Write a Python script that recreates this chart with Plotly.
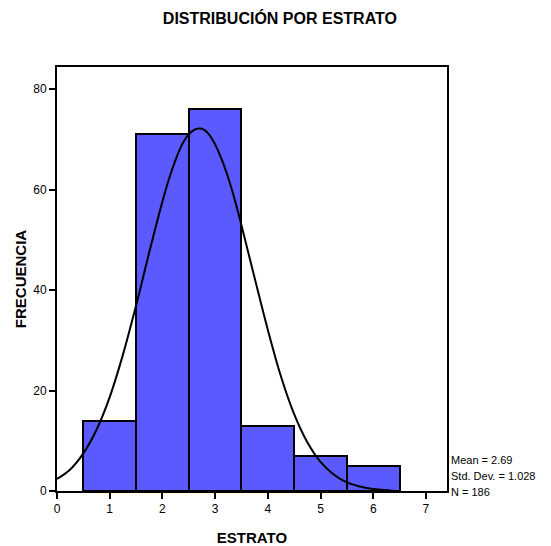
import plotly.graph_objects as go

# histogram counts per estrato
estrato = [1, 2, 3, 4, 5, 6]
frecuencia = [14, 71, 76, 13, 7, 5]

# normal curve (mean 2.69, sd 1.028, N 186)
curve_x = [0, 0.25, 0.5, 0.75, 1, 1.25, 1.5, 1.75, 2, 2.125, 2.25, 2.375, 2.5, 2.625,
           2.75, 2.875, 3, 3.125, 3.25, 3.375, 3.5, 3.75, 4, 4.25, 4.5, 4.75, 5, 5.25,
           5.5, 5.75, 6, 6.25, 6.4]
curve_y = [2.4, 4.3, 7.5, 12.2, 18.7, 27.1, 36.9, 47.5, 57.6, 62.1, 65.9, 69.0, 71.0, 72.0,
           72.1, 71.1, 69.0, 66.0, 62.3, 57.9, 52.9, 42.4, 32.1, 22.8, 15.3, 9.7, 5.8, 3.3,
           1.7, 0.9, 0.4, 0.2, 0.0]

stats = ["Mean = 2.69", "Std. Dev. = 1.028", "N = 186"]

font = "Arial, Liberation Sans, sans-serif"

fig = go.Figure()
fig.add_trace(go.Bar(
    x=estrato, y=frecuencia, width=1,
    marker=dict(color="#5A5AFF", line=dict(color="black", width=2)),
    showlegend=False,
))
fig.add_trace(go.Scatter(
    x=curve_x, y=curve_y, mode="lines", line_shape="spline",
    line=dict(color="black", width=2),
    showlegend=False,
))

axis_common = dict(
    showline=True, linecolor="black", linewidth=2, mirror=True,
    ticks="outside", ticklen=6, tickwidth=2, tickcolor="black",
    showgrid=False, zeroline=False, automargin=False,
    tickfont=dict(family=font, size=12, color="black"),
)
fig.update_xaxes(range=[0, 7.4], tickvals=[0, 1, 2, 3, 4, 5, 6, 7],
                 title=dict(text="<b>ESTRATO</b>", font=dict(family=font, size=15, color="black"),
                            standoff=17),
                 **axis_common)
fig.update_yaxes(range=[0, 84.4], tickvals=[0, 20, 40, 60, 80],
                 title=dict(text="<b>FRECUENCIA</b>", font=dict(family=font, size=15, color="black"),
                            standoff=3),
                 **axis_common)

for i, s in enumerate(stats):
    fig.add_annotation(
        text=s, xref="paper", yref="paper", x=1.005, y=0.072 - i * 0.037,
        xanchor="left", yanchor="middle", showarrow=False,
        font=dict(family=font, size=11, color="black"),
    )

fig.update_layout(
    width=551, height=546,
    margin=dict(l=57, r=104, t=67, b=55),
    paper_bgcolor="white", plot_bgcolor="white",
    bargap=0,
    title=dict(text="<b>DISTRIBUCIÓN POR ESTRATO</b>", x=0.508, xanchor="center",
               y=0.967, yanchor="middle",
               font=dict(family=font, size=16, color="black")),
)

fig.write_html("out.html", config={"displayModeBar": False},
               post_script="document.body.style.margin='0';")
